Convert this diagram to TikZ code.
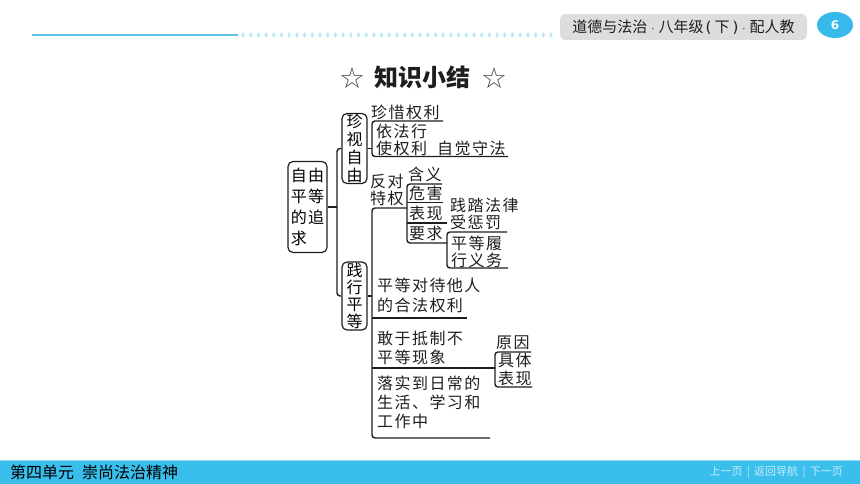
\documentclass[tikz,border=0pt]{standalone}
\usepackage{fontspec}
\usetikzlibrary{shapes.geometric}
\newfontfamily\cjk{Noto Sans CJK SC}
\newfontfamily\cjks[LetterSpace=9]{Noto Sans CJK SC}
\newfontfamily\symf{DejaVu Sans}
\definecolor{lc}{RGB}{30,30,30}
\definecolor{hblue}{RGB}{95,195,235}
\definecolor{dotc}{RGB}{195,232,248}
\definecolor{hgray}{RGB}{221,221,221}
\definecolor{pblue}{RGB}{55,185,235}
\definecolor{fblue}{RGB}{58,190,236}
\definecolor{navc}{RGB}{200,235,250}
\definecolor{starc}{RGB}{70,70,70}
\tikzset{
  box/.style={draw=lc, line width=1.2pt, rounded corners=5pt, inner sep=0pt, align=center, font=\cjks\fontsize{16}{18}\selectfont},
  txt/.style={inner sep=0pt, anchor=west, align=left, text=lc, font=\cjks\fontsize{16}{18}\selectfont},
  ln/.style={draw=lc, line width=1.4pt, rounded corners=3pt},
  star/.style={inner sep=0pt, font=\symf\fontsize{29}{30}\selectfont, text=starc},
}
\newcommand{\hdot}{\hspace{4pt}{\symf\fontsize{10}{12}\selectfont ·}\hspace{4pt}}
\begin{document}
\begin{tikzpicture}[x=1pt,y=-1pt]
\useasboundingbox (0,0) rectangle (860,484);
% header
\draw[hblue, line width=2.5pt] (32,35) -- (238,35);
\foreach \i in {0,...,40} \fill[dotc] (243+\i*7.7,35) ellipse (1.6pt and 2.6pt);
\node[fill=hgray, rounded corners=5pt, minimum width=247pt, minimum height=26pt, inner sep=0pt, font=\cjk\fontsize{15}{16}\selectfont, text=lc] (hdr) at (683.5,27) {道德与法治\hdot 八年级{\symf\hspace{2pt}(\hspace{3pt}}下{\symf\hspace{3pt})}\hdot 配人教};
\node[ellipse, fill=pblue, minimum width=36pt, minimum height=26pt, inner sep=0pt, text=white, font=\symf\bfseries\fontsize{12}{14}\selectfont] (pg) at (835,25) {6};
% title
\node[inner sep=0pt, font=\cjk\bfseries\fontsize{24}{26}\selectfont, text=lc] (title) at (422,77) {知识小结};
\node[star] (st1) at (352,78) {☆};
\node[star] (st2) at (494,78) {☆};
% boxes
\node[box, minimum width=39pt, minimum height=91pt, align=left, font=\cjks\fontsize{16}{21}\selectfont] (root) at (307.5,207) {自由\\平等\\的追\\求};
\node[box, minimum width=25pt, minimum height=70pt, font=\cjks\fontsize{16}{18}\selectfont] (zy) at (354.5,148.5) {珍\\视\\自\\由};
\node[box, minimum width=25pt, minimum height=68pt, font=\cjks\fontsize{16}{17}\selectfont] (jx) at (354.5,296) {践\\行\\平\\等};
% root bracket
\draw[ln] (root.east) -- (337,207);
\draw[ln] (zy.west) -- (337,148.5) -- (337,296) -- (jx.west);
% zhenshi ziyou branch
\node[txt] (t1) at (371,112) {珍惜权利};
\node[txt] (t2) at (376,131) {依法行};
\node[txt] (t3) at (376,148) {使权利};
\node[txt] (t4) at (437,148) {自觉守法};
\draw[ln] (zy.east) -- (372,148.5);
\draw[ln] (443,121) -- (372,121) -- (372,156.5) -- (508,156.5);
% jianxing pingdeng branch
\draw[ln] (jx.east) -- (372,296);
\draw[ln] (407,208) -- (372,208) -- (372,438) -- (490,438);
\node[txt, font=\cjks\fontsize{16}{17}\selectfont] (fd) at (370,189.5) {反对\\特权};
\node[txt] (hy) at (408,174) {含义};
\node[txt] (wh) at (409,193) {危害};
\node[txt] (bx) at (409,213) {表现};
\node[txt] (yq) at (409,233) {要求};
\draw[ln] (442,184) -- (407,184) -- (407,243) -- (447,243);
\draw[ln] (407,202.5) -- (443,202.5);
\draw[ln] (407,223) -- (447,223);
\node[txt, font=\cjks\fontsize{16}{17}\selectfont] (jt) at (450,213.5) {践踏法律\\受惩罚};
\node[txt, font=\cjks\fontsize{16}{17}\selectfont] (pd) at (451,251.5) {平等履\\行义务};
\draw[ln] (507,232) -- (447,232) -- (447,268) -- (508,268);
\node[txt, font=\cjks\fontsize{16}{20}\selectfont] (dd) at (377,295) {平等对待他人\\的合法权利};
\draw[ln] (372,318) -- (467,318);
\node[txt, font=\cjks\fontsize{16}{19}\selectfont] (gy) at (377,347.5) {敢于抵制不\\平等现象};
\draw[ln] (372,368) -- (495,368);
\node[txt] (yy) at (496,343) {原因};
\node[txt, font=\cjks\fontsize{16}{18}\selectfont] (jtbx) at (498,369) {具体\\表现};
\draw[ln] (531,352) -- (495,352) -- (495,387) -- (532,387);
\node[txt, font=\cjks\fontsize{16}{19}\selectfont] (ls) at (377,402) {落实到日常的\\生活、学习和\\工作中};
% footer
\fill[fblue] (0,460) rectangle (860,484);
\draw[navc!60!fblue, line width=0.8pt] (0,460.4) -- (860,460.4);
\node[inner sep=0pt, anchor=west, font=\cjk\fontsize{16}{18}\selectfont, text=black] (unit) at (10,472) {第四单元\hspace{8pt}崇尚法治精神};
\node[inner sep=0pt, anchor=east, font=\cjk\fontsize{11}{12}\selectfont, text=navc] (nav) at (843,472) {上一页 \,|\, 返回导航 \,|\, 下一页};
\end{tikzpicture}
\end{document}
